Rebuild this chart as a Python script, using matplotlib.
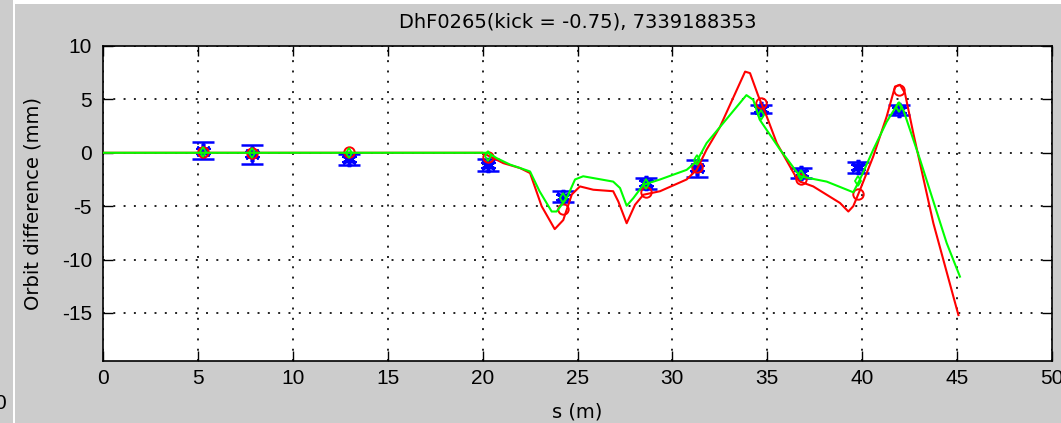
import numpy as np
import matplotlib
matplotlib.use("Agg")
import matplotlib.pyplot as plt
from matplotlib.patches import Rectangle

plt.rcParams["font.family"] = ["DejaVu Sans"]
plt.rcParams["axes.unicode_minus"] = False

# BPM positions and measured orbit difference (mm) with errors
bpm_s = [5.25, 7.85, 12.95, 20.3, 24.25, 28.6, 31.3, 34.65, 36.75, 39.8, 41.95]
meas = [0.2, -0.15, -0.6, -1.15, -4.1, -2.85, -1.45, 4.1, -1.9, -1.35, 4.0]
meas_err = [0.8, 0.9, 0.5, 0.6, 0.5, 0.5, 0.8, 0.4, 0.45, 0.5, 0.45]

# model values at the BPMs
model_red = [0.1, 0.0, 0.05, -0.4, -5.3, -3.7, -1.3, 4.65, -2.45, -3.85, 5.9]
model_green = [0.05, 0.0, 0.0, -0.3, -4.2, -2.95, -0.7, 3.5, -2.05, -2.6, 4.3]

# model orbit along s
red_s = [0, 20.0, 20.56, 21.09, 21.97, 22.5, 23.11, 23.8, 24.25, 24.7, 25.13, 25.83,
         26.88, 27.15, 27.59, 28.03, 28.47, 29.35, 30.75, 31.28, 31.8, 32.5, 33.83,
         34.09, 34.53, 34.97, 35.5, 36.55, 36.72, 37.42, 38.83, 39.27, 39.53, 39.88,
         40.58, 41.29, 41.73, 41.99, 42.25, 42.69, 43.75, 45.07]
red_y = [0, 0, -0.5, -0.97, -1.43, -1.9, -5.0, -7.15, -6.3, -3.9, -3.15, -3.46,
         -3.6, -4.56, -6.6, -4.87, -3.93, -3.6, -2.5, -1.6, 0.3, 2.4, 7.6,
         7.46, 5.3, 3.4, 0.9, -2.4, -2.7, -3.15, -4.7, -5.5, -5.0, -3.5,
         -0.35, 3.4, 6.2, 6.37, 5.6, 1.85, -6.6, -15.2]

green_s = [0, 20.3, 20.74, 21.44, 22.5, 23.0, 23.64, 23.9, 24.43, 24.87, 25.3, 26.88,
           27.24, 27.59, 27.94, 28.47, 29.35, 30.75, 31.28, 31.8, 33.9, 34.26, 34.6,
           35.67, 36.72, 38.13, 39.53, 39.88, 40.58, 41.29, 41.9, 42.17, 43.05, 44.45,
           45.15]
green_y = [0, 0, -0.5, -1.1, -1.75, -3.6, -5.5, -5.5, -4.25, -2.5, -2.2, -2.7,
           -3.3, -4.96, -4.25, -3.0, -2.5, -1.6, -0.8, 0.9, 5.4, 4.96, 3.1,
           0.3, -2.2, -2.7, -3.7, -2.5, 0.28, 2.9, 4.65, 4.0, -0.65, -8.45,
           -11.6]

W, H = 1061, 423
fig = plt.figure(figsize=(W / 100, H / 100), dpi=100, facecolor="white")
gray = "#cccccc"
fig.add_artist(Rectangle((0, 0), 13 / W, 1, transform=fig.transFigure,
                         facecolor=gray, edgecolor="none", zorder=-10))
fig.add_artist(Rectangle((15 / W, 0), 1 - 15 / W, 1 - 4 / H, transform=fig.transFigure,
                         facecolor=gray, edgecolor="none", zorder=-10))
fig.text(6 / W, 1 - 403 / H, "0", ha="right", va="center", fontsize=15,
         family="Liberation Sans")

ax = fig.add_axes([103 / W, 1 - 361 / H, (1052 - 103) / W, (361 - 46) / H])
ax.set_facecolor("white")

ax.errorbar(bpm_s, meas, yerr=meas_err, fmt="none", ecolor="blue",
            elinewidth=1.8, capsize=8, capthick=1.8, zorder=3)
ax.plot(bpm_s, meas, linestyle="none", marker=(6, 2, 0), markersize=11,
        markeredgewidth=2.6, color="blue", zorder=3)
ax.plot(red_s, red_y, color="red", linewidth=1.5, zorder=4)
ax.plot(bpm_s, model_red, linestyle="none", marker="o", markersize=7.5,
        markerfacecolor="none", markeredgecolor="red", markeredgewidth=1.4, zorder=4)
ax.plot(green_s, green_y, color="#00ff00", linewidth=1.5, zorder=5)
ax.plot(bpm_s, model_green, linestyle="none", marker="d", markersize=5.5,
        markerfacecolor="none", markeredgecolor="#00ff00", markeredgewidth=1.3, zorder=5)

ax.set_xlim(0, 50)
ax.set_ylim(-19.5, 10)
ax.set_xticks(np.arange(0, 51, 5))
ax.set_yticks(np.arange(-15, 11, 5))
ax.grid(True, color="#222222", linestyle=(0, (1, 4.3)), linewidth=1.4)
ax.tick_params(direction="in", length=7, width=1, top=True, right=True,
               labelsize=15)
ax.tick_params(axis="x", pad=6)
ax.tick_params(axis="y", pad=8)
for lab in ax.get_xticklabels() + ax.get_yticklabels():
    lab.set_family("Liberation Sans")
for sp in ax.spines.values():
    sp.set_linewidth(1.2)

ax.set_title("DhF0265(kick = -0.75), 7339188353", fontsize=14, pad=13)
ax.set_xlabel("s (m)", fontsize=14)
ax.set_ylabel("Orbit difference (mm)", fontsize=14)
ax.xaxis.set_label_coords(0.5, -0.162)
ax.yaxis.set_label_coords(-0.0738, 0.5)
ax.xaxis.label.set_va("center")
ax.yaxis.label.set_va("center")

fig.savefig("out.png", dpi=100, facecolor=fig.get_facecolor())
